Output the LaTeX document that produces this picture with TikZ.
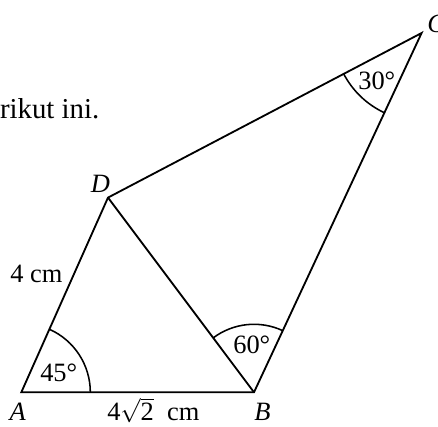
\documentclass[tikz,border=0pt]{standalone}
\usepackage{fontspec}
\setmainfont{Liberation Serif}
\usetikzlibrary{angles, positioning}

\begin{document}
\begin{tikzpicture}[
    font=\fontsize{18.8}{22}\selectfont,
    side/.style={
      draw=black,
      line width=1.3pt,
      line join=miter,
    },
    mark arc/.style={
      draw=black,
      line width=1.1pt,
    },
    vertex/.style={
      font=\fontsize{18.8}{22}\selectfont\itshape,
      inner sep=0pt,
    },
    measure/.style={
      inner sep=0pt,
      anchor=base west,
    },
  ]

  \useasboundingbox (0,0) rectangle (10.95,10.65);

  % Corners
  \coordinate (A) at (0.533,0.843);
  \coordinate (B) at (6.35,0.843);
  \coordinate (C) at (10.54,9.825);
  \coordinate (D) at (2.70,5.71);

  % Sides
  \draw[side] (A) -- (B) -- (C) -- (D) -- cycle;
  \draw[side] (D) -- (B);

  % Angle marks
  \pic[mark arc, angle radius=1.725cm] {angle=B--A--D};
  \pic[mark arc, angle radius=1.70cm] {angle=C--B--D};
  \pic[mark arc, angle radius=2.20cm] {angle=D--C--B};

  % Vertex names
  \node[vertex, anchor=base] (lA) at (0.44,0.15) {A};
  \node[vertex, anchor=base] (lB) at (6.56,0.15) {B};
  \node[vertex, anchor=base west] (lC) at (10.675,9.825) {C};
  \node[vertex, anchor=base] (lD) at (2.51,5.825) {D};

  % Measures
  \node[measure] (aA) at (1.0,1.1075) {45°};
  \node[measure] (aB) at (5.825,1.825) {60°};
  \node[measure] (aC) at (8.95,8.4) {30°};
  \node[measure] (sAD) at (0.25,3.6) {4 cm};
  \node[measure] (sAB) at (2.675,0.1375) {4$\sqrt{\mbox{2}}$\ \ cm};

  % Cut-off text
  \node[inner sep=0pt, anchor=base east, font=\fontsize{20.5}{24}\selectfont] (txt) at (2.49,7.675) {rikut ini.};

\end{tikzpicture}
\end{document}
